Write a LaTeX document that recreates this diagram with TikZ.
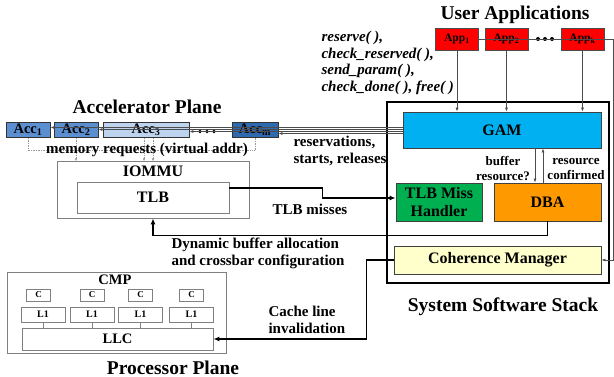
\documentclass[tikz,border=0pt]{standalone}
\usepackage{fontspec}
\setmainfont{Liberation Serif}
\usetikzlibrary{arrows.meta,calc}

\definecolor{appred}{HTML}{FF0000}
\definecolor{gamblue}{HTML}{00B0F0}
\definecolor{tlbgreen}{HTML}{00B050}
\definecolor{dbaorange}{HTML}{FF9900}
\definecolor{cohyellow}{HTML}{FFFFCC}
\definecolor{accmid}{HTML}{5B8FD0}
\definecolor{acclight}{HTML}{BDD3EE}
\definecolor{accdark}{HTML}{2E6AB0}

\begin{document}
\begin{tikzpicture}[x=1pt, y=-1pt,
    title/.style={font=\bfseries\fontsize{19.5}{22}\selectfont},
    lbl/.style={font=\bfseries\fontsize{16}{17.5}\selectfont, align=center},
    note/.style={font=\bfseries\fontsize{15}{17}\selectfont, align=left},
    sbox/.style={draw=black!75, line width=0.8pt, inner sep=0pt, lbl},
    graybox/.style={draw=black!50, line width=0.8pt, inner sep=0pt},
    appbox/.style={draw=black!70, fill=appred, line width=0.8pt, inner sep=0pt,
        minimum width=43pt, minimum height=22pt, font=\bfseries\fontsize{11.5}{12}\selectfont},
    accbox/.style={draw=black!80, line width=0.8pt, inner sep=0pt,
        minimum height=15pt, font=\bfseries\fontsize{14.5}{15}\selectfont},
    cbox/.style={graybox, minimum width=24pt, minimum height=12pt, font=\bfseries\fontsize{9}{10}\selectfont},
    lbox/.style={graybox, minimum width=44pt, minimum height=15pt, font=\bfseries\fontsize{10}{11}\selectfont},
    thinarr/.style={draw=black!70, line width=0.7pt, -{Latex[length=4pt,width=3pt]}},
    bigarr/.style={line width=1.6pt, -{Latex[length=6pt,width=5pt]}},
    memline/.style={draw=black!40, densely dotted, line width=0.7pt}]

    \useasboundingbox (0,0) rectangle (614,377);

    % 用户应用
    \node[title] (usrlbl) at (515,15) {User Applications};
    \node[appbox] (app1) at (457,39) {App\textsubscript{1}};
    \node[appbox] (app2) at (506.5,39) {App\textsubscript{2}};
    \node[appbox] (appk) at (582.5,39) {App\textsubscript{k}};
    \foreach \x in {538,545,552} \fill (\x,39) circle (2pt);

    % API 调用
    \node[note, font=\bfseries\itshape\fontsize{15}{16.7}\selectfont, anchor=west] (api) at (318,63)
        {reserve( ),\\check\_reserved( ),\\send\_param( ),\\check\_done( ), free( )};

    % 系统软件栈
    \node[draw, line width=1.6pt, minimum width=222pt, minimum height=181pt, inner sep=0pt] (sss) at (498,192.5) {};
    \node[title] (ssslbl) at (503,307) {System Software Stack};
    \node[sbox, fill=gamblue, minimum width=198pt, minimum height=36pt] (gam) at (502,130) {GAM};
    \node[sbox, fill=tlbgreen, minimum width=86pt, minimum height=38pt] (tlbmh) at (439,202) {TLB Miss\\Handler};
    \node[sbox, fill=dbaorange, minimum width=107pt, minimum height=38pt] (dba) at (547.5,202) {DBA};
    \node[sbox, fill=cohyellow, minimum width=207pt, minimum height=28pt] (coh) at (497.5,260) {Coherence Manager};

    % 应用 -> GAM
    \foreach \a in {app1,app2,appk}
        \draw[thinarr] (\a.south) -- (\a.south |- gam.north);
    \draw[thinarr] (app1.east) -- ++(134.5,0) |- (coh.east);

    % GAM <-> DBA
    \draw[thinarr] ($(gam.south)+(33,0)$) -- ($(dba.north)+(-12.5,0)$);
    \draw[thinarr] ($(dba.north)+(-4.5,0)$) -- ($(gam.south)+(41,0)$);
    \node[note, align=center, font=\bfseries\fontsize{13}{15}\selectfont] (bufq) at (503,168.5) {buffer\\resource?};
    \node[note, align=center, font=\bfseries\fontsize{13}{15}\selectfont] (resok) at (576,168.5) {resource\\confirmed};

    % 加速器平面
    \node[title] (acclbl) at (147,107) {Accelerator Plane};
    \node[accbox, fill=accmid, minimum width=44pt] (acc1) at (28,130) {Acc\textsubscript{1}};
    \node[accbox, fill=accmid, minimum width=44pt] (acc2) at (76,130) {Acc\textsubscript{2}};
    \node[accbox, fill=acclight, minimum width=86pt] (acc3) at (146,130) {Acc\textsubscript{3}};
    \node[accbox, fill=accdark, minimum width=46pt] (accm) at (255,130) {Acc\textsubscript{m}};
    \foreach \x in {200,207,214} \fill (\x,131.5) circle (1.8pt);

    % GAM -> 加速器
    \foreach \a/\dy in {acc1/-2.5, acc2/-0.5, acc3/1.5, accm/3.5}
        \draw[thinarr] ($(gam.west)+(0,\dy)$) -- ($(\a.east)+(0,\dy)$);
    \node[note, anchor=west] (reslbl) at (290,150.5) {reservations,\\starts, releases};

    % 访存请求
    \draw[memline] (acc1.south) -- ++(0,12.5) -| (accm.south);
    \draw[memline, -{Latex[length=3pt,width=2.5pt]}] (acc2.south) -- ++(0,23.5);
    \draw[memline, -{Latex[length=3pt,width=2.5pt]}] ($(acc3.south)+(-2,0)$) -- ++(0,23.5);
    \draw[memline, -{Latex[length=3pt,width=2.5pt]}] ($(acc3.south)+(7,0)$) -- ++(0,23.5);
    \node[note] (memlbl) at (147,150) {memory requests (virtual addr)};

    % IOMMU
    \node[graybox, minimum width=192pt, minimum height=57pt] (iommu) at (153,189.5) {};
    \node[lbl] (iommulbl) at (153,171) {IOMMU};
    \node[graybox, lbl, minimum width=152pt, minimum height=31pt] (tlb) at (153,197.5) {TLB};

    % TLB 缺失
    \draw[bigarr] ([yshift=9.5pt]tlb.east) -- ++(93,0) |- ([yshift=4pt]tlbmh.west);
    \node[note] (misslbl) at (310,209) {TLB misses};

    % 动态缓冲分配
    \draw[bigarr] (dba.south) -- ++(0,14) -| (iommu.south);
    \node[note, anchor=west] (dynlbl) at (168,253.5) {Dynamic buffer allocation\\and crossbar configuration};

    % 处理器平面
    \node[graybox, minimum width=219pt, minimum height=81pt] (cmp) at (116.5,312.5) {};
    \node[font=\bfseries\fontsize{14.5}{16}\selectfont] (cmplbl) at (115,280) {CMP};
    \node[graybox, minimum width=191pt, minimum height=22pt, font=\bfseries\fontsize{14.5}{16}\selectfont] (llc) at (117.5,339) {LLC};
    \foreach \i/\cx/\lx in {1/38.5/43, 2/92/92, 3/140.5/140.5, 4/191.5/191.5} {
        \node[cbox] (c\i) at (\cx,295) {C};
        \node[lbox] (l\i) at (\lx,314.5) {L1};
        \draw[black!50, line width=0.6pt] (l\i.south) -- (l\i.south |- llc.north);
    }
    \node[title, anchor=base, inner sep=0pt] (proclbl) at (173,374) {Processor Plane};

    % 缓存行失效
    \draw[bigarr] (coh.west) -- ++(-27,0) |- (llc.east);
    \node[note, anchor=west] (cachelbl) at (265,319.5) {Cache line\\invalidation};
\end{tikzpicture}
\end{document}
